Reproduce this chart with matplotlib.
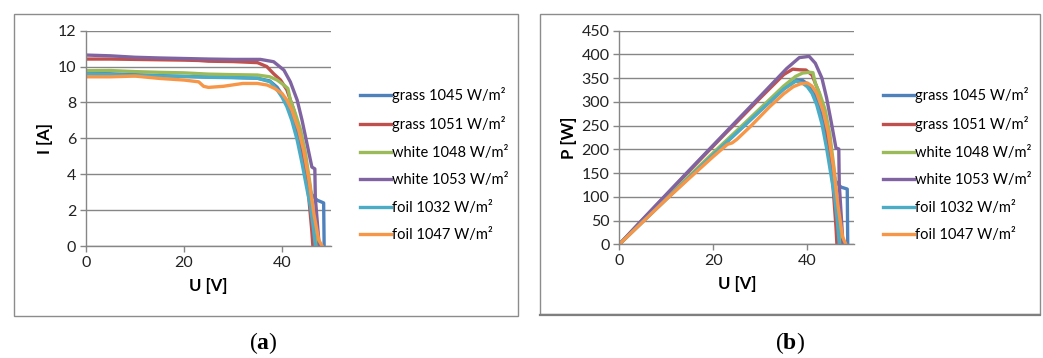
import matplotlib
matplotlib.use("Agg")
import matplotlib.pyplot as plt
from matplotlib.patches import Rectangle
from matplotlib.lines import Line2D

plt.rcParams['font.family'] = ['Lato', 'DejaVu Sans']
plt.rcParams['mathtext.fontset'] = 'custom'
plt.rcParams['mathtext.bf'] = 'Liberation Serif:bold'
plt.rcParams['mathtext.rm'] = 'Liberation Serif'

# ----------------------- Data -----------------------
labels = ["grass 1045 W/m²", "grass 1051 W/m²", "white 1048 W/m²",
          "white 1053 W/m²", "foil 1032 W/m²", "foil 1047 W/m²"]
colors = ["#4F81BD", "#C0504D", "#9BBB59", "#8064A2", "#4BACC6", "#F79646"]

u_grass1045 = [0.3, 5, 10, 15, 20, 25, 30, 35, 37.5, 39, 40, 41, 42, 43, 44, 45, 46, 46.8, 47.2, 48.0, 48.5, 48.6]
i_grass1045 = [9.62, 9.6, 9.55, 9.5, 9.45, 9.42, 9.4, 9.35, 9.2, 8.85, 8.45, 7.95, 7.25, 6.3, 5.1, 3.8, 2.9, 2.65, 2.55, 2.46, 2.4, 0]
p_grass1045 = [2.9, 48, 95.5, 142.5, 189, 235.5, 282, 327.3, 345, 345.2, 338, 326, 304.5, 270.9, 224.4, 171, 133.4, 124, 120.4, 118, 116.4, 0]

u_grass1051 = [0.3, 5, 10, 15, 20, 23, 25, 30, 35, 36.9, 38.3, 39.7, 41, 42.4, 43.8, 44.8, 45.5, 46.1, 46.3]
i_grass1051 = [10.42, 10.42, 10.4, 10.38, 10.36, 10.34, 10.3, 10.28, 10.22, 10.0, 9.6, 9.25, 8.7, 7.6, 6.1, 4.4, 2.6, 0.8, 0]
p_grass1051 = [3.1, 52.1, 104, 155.7, 207.2, 237.8, 257.5, 308.4, 357.7, 369, 367.7, 367.2, 356.7, 322.2, 267.2, 197.1, 118.3, 36.9, 0]

u_white1048 = [0.3, 5, 10, 15, 20, 25, 30, 35, 37.5, 39, 40.4, 41.2, 41.7, 42.7, 43.8, 44.8, 45.8, 46.8, 47.2]
i_white1048 = [9.77, 9.78, 9.72, 9.68, 9.65, 9.58, 9.55, 9.53, 9.43, 9.25, 8.97, 8.78, 8.13, 7.4, 6.46, 5.16, 3.3, 0.9, 0]
p_white1048 = [2.9, 48.9, 97.2, 145.2, 193, 239.5, 286.5, 333.6, 353.6, 360.8, 362.4, 361.7, 339, 316, 283, 231.2, 151.1, 42.1, 0]

u_white1053 = [0.3, 5, 10, 15, 20, 25, 30, 35.6, 38.3, 40.4, 41.7, 43.1, 44.1, 45.1, 46.1, 46.7, 46.8, 47.3, 47.6]
i_white1053 = [10.64, 10.6, 10.52, 10.48, 10.45, 10.42, 10.4, 10.4, 10.27, 9.8, 9.15, 8.13, 7.0, 5.7, 4.4, 4.3, 2.7, 1.0, 0]
p_white1053 = [3.2, 53, 105.2, 157.2, 209, 260.5, 312, 370.2, 393.3, 395.9, 381.6, 350.4, 308.7, 257.1, 202.8, 200.8, 126.4, 47.3, 0]

u_foil1032 = [0.3, 5, 10, 15, 20, 25, 30, 35, 37.6, 39, 40, 41, 42, 43.1, 44.1, 45, 45.8, 46.4, 46.8]
i_foil1032 = [9.58, 9.55, 9.5, 9.48, 9.45, 9.4, 9.38, 9.35, 9.15, 8.7, 8.3, 7.76, 7.0, 5.9, 4.6, 3.3, 2.2, 1.0, 0]
p_foil1032 = [2.9, 47.8, 95, 142.2, 189, 235, 281.4, 327.3, 344, 339.3, 332, 318.2, 294, 254.3, 202.9, 148.5, 100.8, 46.4, 0]

u_foil1047 = [0.3, 5, 10, 15, 20, 23, 24, 25, 28, 32, 35, 37, 38.5, 40, 41, 42, 43.4, 44.4, 45.5, 46.5, 47.5, 48.2]
i_foil1047 = [9.43, 9.43, 9.47, 9.34, 9.25, 9.15, 8.9, 8.84, 8.9, 9.06, 9.06, 8.97, 8.78, 8.5, 8.13, 7.58, 6.46, 5.35, 3.68, 1.8, 0.33, 0]
p_foil1047 = [2.8, 47.2, 94.7, 140.1, 185, 210.5, 213.6, 221, 249.2, 289.9, 317.1, 331.9, 338, 340, 333.3, 318.4, 280.4, 237.5, 167.4, 83.7, 15.7, 0]

u_all = [u_grass1045, u_grass1051, u_white1048, u_white1053, u_foil1032, u_foil1047]
i_all = [i_grass1045, i_grass1051, i_white1048, i_white1053, i_foil1032, i_foil1047]
p_all = [p_grass1045, p_grass1051, p_white1048, p_white1053, p_foil1032, p_foil1047]

x_ticks = [0, 20, 40]
i_ticks = [0, 2, 4, 6, 8, 10, 12]
p_ticks = [0, 50, 100, 150, 200, 250, 300, 350, 400, 450]

# ----------------------- Figure -----------------------
W, H = 1043, 358
fig = plt.figure(figsize=(W / 100, H / 100), dpi=100)

def fx(px):
    return px / W

def fy(py):
    return 1 - py / H

# outer frames around each panel
frame_col = "#8c8c8c"
fig.patches.append(Rectangle((fx(14), fy(316)), fx(504), 302 / H, transform=fig.transFigure,
                             fill=False, edgecolor=frame_col, lw=1.0))
fig.patches.append(Rectangle((fx(540), fy(314)), fx(500), 300 / H, transform=fig.transFigure,
                             fill=False, edgecolor=frame_col, lw=1.0))
fig.lines.append(Line2D([fx(540), fx(1040)], [fy(314.5), fy(314.5)], transform=fig.transFigure,
                        color="#7f7f7f", lw=1.6))

grid_col = "#868686"

def style_axes(ax, yticks, ylabel):
    ax.set_xlim(0, 50)
    ax.set_ylim(yticks[0], yticks[-1])
    ax.set_xticks(x_ticks)
    ax.set_yticks(yticks)
    ax.grid(axis="y", color=grid_col, lw=1.0)
    ax.set_axisbelow(True)
    for s in ["top", "right"]:
        ax.spines[s].set_visible(False)
    for s in ["left", "bottom"]:
        ax.spines[s].set_color(grid_col)
        ax.spines[s].set_linewidth(1.0)
    ax.tick_params(axis="both", direction="out", length=4, width=1.0, color=grid_col,
                   labelsize=11.5, labelcolor="#222222", pad=3)
    ax.set_xlabel("U [V]", fontsize=12, fontweight="bold", labelpad=6)
    ax.set_ylabel(ylabel, fontsize=12, fontweight="bold", labelpad=3)

ax1 = fig.add_axes([fx(86), fy(246), fx(245), 215.3 / H])
ax2 = fig.add_axes([fx(619.3), fy(244.3), fx(235), 213.6 / H])

for u, i, p, c, lab in zip(u_all, i_all, p_all, colors, labels):
    ax1.plot(u, i, color=c, lw=2.4, label=lab, solid_joinstyle="round")
    ax2.plot(u, p, color=c, lw=2.4, label=lab, solid_joinstyle="round")

style_axes(ax1, i_ticks, "I [A]")
style_axes(ax2, p_ticks, "P [W]")

for ax, lx in [(ax1, 360), (ax2, 883)]:
    ax.legend(loc="center left", bbox_to_anchor=(fx(lx), fy(164.5)),
              bbox_transform=fig.transFigure, frameon=False, fontsize=10.5,
              handlelength=2.1, handletextpad=0.1, labelspacing=0.92,
              borderpad=0, borderaxespad=0)

fig.text(fx(263), fy(343), r"($\mathbf{a}$)", ha="center", va="center", fontsize=17,
         family="Liberation Serif")
fig.text(fx(790), fy(343), r"($\mathbf{b}$)", ha="center", va="center", fontsize=17,
         family="Liberation Serif")

fig.savefig("out.png", dpi=100)
